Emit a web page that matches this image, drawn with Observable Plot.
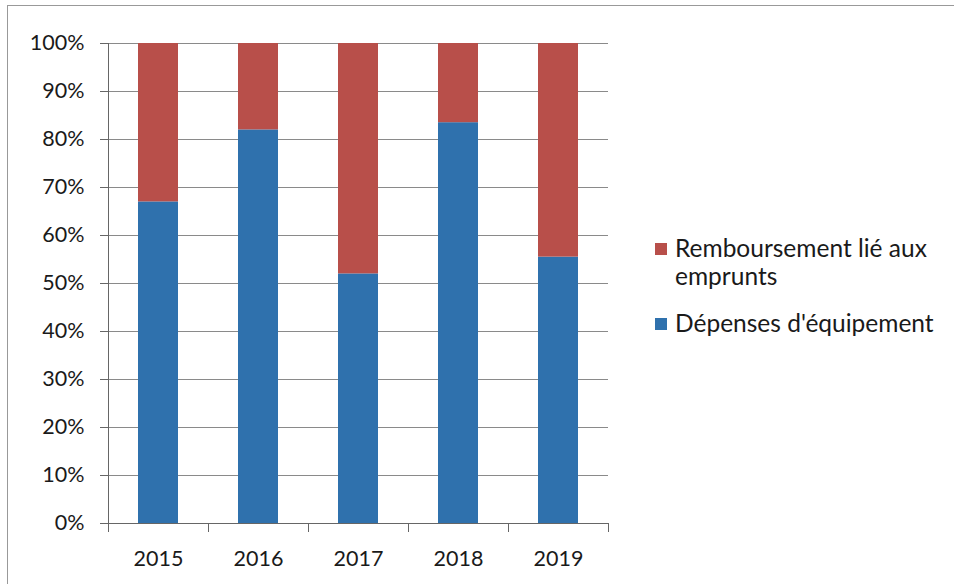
<!DOCTYPE html>
<html>
<head>
<meta charset="utf-8">
<script src="https://cdn.jsdelivr.net/npm/d3@7"></script>
<script src="https://cdn.jsdelivr.net/npm/@observablehq/plot@0.6"></script>
<style>
  html, body { margin: 0; padding: 0; background: #fff; }
  #wrap { position: relative; width: 954px; height: 584px; overflow: hidden; font-family: Lato, "Open Sans", sans-serif; }
  #border { position: absolute; left: 7px; top: 5px; width: 1000px; height: 1000px; border: 1px solid #999; box-sizing: border-box; pointer-events: none; }
  #legend { position: absolute; left: 0; top: 0; pointer-events: none; }
</style>
</head>
<body>
<div id="wrap">
  <div id="chart"></div>
  <div id="border"></div>
  <svg id="legend" width="954" height="584"></svg>
</div>
<script>
const years = ["2015", "2016", "2017", "2018", "2019"];
const seriesNames = ["Dépenses d'équipement", "Remboursement lié aux emprunts"];
const depenses = [67, 82, 52, 83.5, 55.5];
const remboursement = [33, 18, 48, 16.5, 44.5];
const yTicks = [0, 10, 20, 30, 40, 50, 60, 70, 80, 90, 100];
const colors = ["#2f71ad", "#b84f4a"];
const legendLines = [["Remboursement lié aux", "emprunts"], ["Dépenses d'équipement"]];

const data = [];
years.forEach((y, i) => data.push({year: y, series: seriesNames[0], value: depenses[i]}));
years.forEach((y, i) => data.push({year: y, series: seriesNames[1], value: remboursement[i]}));

const chart = Plot.plot({
  width: 954,
  height: 584,
  marginLeft: 108,
  marginRight: 346,
  marginTop: 43,
  marginBottom: 61,
  style: {fontFamily: "Lato, 'Open Sans', sans-serif", fontSize: "21.5px", color: "#1a1a1a", background: "transparent"},
  x: {domain: years, paddingInner: 0.6, paddingOuter: 0.3, label: null},
  y: {domain: [0, 100], label: null},
  color: {domain: seriesNames, range: colors},
  marks: [
    Plot.gridY(yTicks, {stroke: "#8a8a8a", strokeOpacity: 1, strokeWidth: 1}),
    Plot.barY(data, {x: "year", y: "value", fill: "series"}),
    Plot.axisY(yTicks, {tickFormat: d => d + "%", tickSize: 8, tickPadding: 16, fontSize: 21.5, stroke: "#666"}),
    Plot.ruleX([years[0]], {x: d => d, dx: -50, stroke: "#666"}),
    Plot.ruleY([0], {stroke: "#666"}),
    Plot.ruleX(years, {x: d => d, y1: 0, y2: 0, dx: -50, insetBottom: -9, stroke: "#666"}),
    Plot.ruleX([years[years.length - 1]], {x: d => d, y1: 0, y2: 0, dx: 50, insetBottom: -9, stroke: "#666"}),
    Plot.axisX({tickSize: 0, tickPadding: 27, fontSize: 21.5})
  ]
});
document.getElementById("chart").appendChild(chart);

// legend (red entry first, as in the reference)
const lg = d3.select("#legend");
const entries = [
  {color: colors[1], lines: legendLines[0], baseline: 257},
  {color: colors[0], lines: legendLines[1], baseline: 332}
];
entries.forEach(e => {
  lg.append("rect").attr("x", 655).attr("y", e.baseline - 14).attr("width", 12).attr("height", 12).attr("fill", e.color);
  const t = lg.append("text").attr("x", 675).attr("y", e.baseline)
    .attr("font-family", "Lato, 'Open Sans', sans-serif").attr("font-size", 24.5).attr("fill", "#1a1a1a");
  e.lines.forEach((l, i) => {
    t.append("tspan").attr("x", 675).attr("dy", i === 0 ? 0 : 28).text(l);
  });
});
</script>
</body>
</html>
